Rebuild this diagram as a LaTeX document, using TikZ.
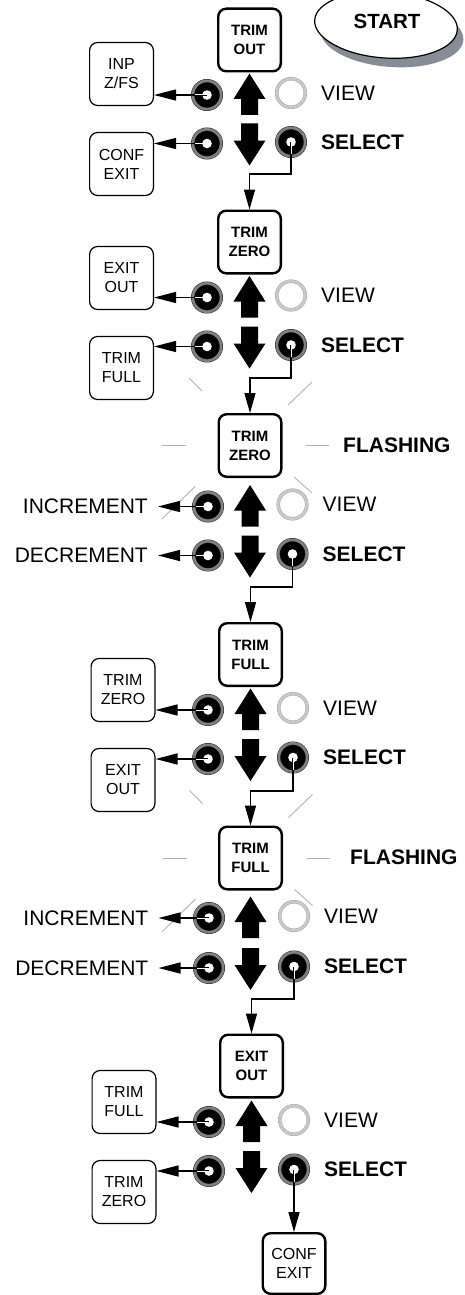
\documentclass[tikz,border=0pt]{standalone}
\usepackage{fontspec}
\setmainfont{Liberation Sans}
\usetikzlibrary{arrows.meta,shapes.geometric}
\definecolor{ringgray}{RGB}{128,128,130}
\definecolor{viewgray}{RGB}{200,200,206}
\definecolor{flashgray}{RGB}{178,178,178}
\definecolor{shadowgray}{RGB}{135,140,150}
\newcommand\ctrls[6]{%
 \node[btn] (#1bu) at (#2,#4) {};
 \node[btn] (#1bd) at (#2,#5) {};
 \node[viewbtn] (#1v) at (#3,#4-2) {};
 \node[btn] (#1s) at (#3,#5-1.5) {};
 \node[lbl, anchor=west] (#1vt) at (#3+30,#4-2) {VIEW};
 \node[lblb, anchor=west] (#1st) at (#3+30,#5-1.5) {SELECT};
 \fill (#6,#4-21.5) -- (#6+16,#4+4) -- (#6+8.5,#4+4) -- (#6+8.5,#4+20) -- (#6-8.5,#4+20) -- (#6-8.5,#4+4) -- (#6-16,#4+4) -- cycle;
 \fill (#6,#5+22) -- (#6+16,#5-3) -- (#6+8.5,#5-3) -- (#6+8.5,#5-20) -- (#6-8.5,#5-20) -- (#6-8.5,#5-3) -- (#6-16,#5-3) -- cycle;
}
\newcommand\whites[1]{%
 \draw[inner] (#1bu.center) -- ++(-12,0);
 \draw[inner] (#1bd.center) -- ++(-12,0);
 \draw[inner] (#1s.center) -- ++(0,12);
}
\newcommand\flashes[1]{%
 \begin{scope}[shift={(#1.center)}]
  \draw[flash] (-61,-67.5) -- (-48,-54.5);
  \draw[flash] (62,-63.5) -- (38,-40.5);
  \draw[flash] (-88,0) -- (-64,0);
  \draw[flash] (56,0) -- (79,0);
  \draw[flash] (-55,41) -- (-88,73.5);
  \draw[flash] (44,31.5) -- (62,47.5);
 \end{scope}
}
\begin{document}
\begin{tikzpicture}[x=1pt,y=-1pt,
  mainbox/.style={draw, line width=2.4pt, rounded corners=8pt, minimum width=62.6pt, minimum height=62.6pt, fill=white, inner sep=0pt, align=center, font=\bfseries\fontsize{15}{19}\selectfont},
  sidebox/.style={draw, line width=1.2pt, rounded corners=8pt, minimum width=63.8pt, minimum height=63pt, fill=white, inner sep=0pt, align=center, font=\fontsize{16}{19}\selectfont},
  btn/.style={circle, inner sep=0pt, minimum size=28.4pt, fill=black, draw=black!85, line width=0.5pt, double=ringgray, double distance=2.6pt, path picture={\fill[white] (path picture bounding box.center) circle (4.8pt);}},
  viewbtn/.style={circle, inner sep=0pt, minimum size=28.6pt, fill=white, draw=black!35, line width=0.45pt, double=viewgray, double distance=2.6pt},
  lbl/.style={inner sep=0pt, font=\fontsize{21}{25}\selectfont},
  lblb/.style={inner sep=0pt, font=\bfseries\fontsize{21}{25}\selectfont},
  conn/.style={line width=1.3pt, -{Triangle[length=22pt,width=11pt]}},
  connd/.style={line width=1.3pt, -{Triangle[length=20pt,width=11pt]}},
  inner/.style={draw=white, line width=1pt},
  flash/.style={draw=flashgray, line width=0.9pt},
  startell/.style={ellipse, inner sep=0pt, minimum width=143pt, minimum height=66pt, rotate=-4}
]
\useasboundingbox (0,0) rectangle (464,1295);
\fill[white] (0,0) rectangle (464,1295);

% START
\node[startell, fill=shadowgray, minimum height=64pt] (startsh) at (392,35) {};
\node[startell, draw, line width=1.2pt, fill=white] (startbg) at (386,25) {};
\node[lblb, font=\bfseries\fontsize{20.5}{24}\selectfont] (start) at (387,21) {START};

% main boxes
\node[mainbox] (m1) at (249.5,40) {TRIM\\OUT};
\node[mainbox] (m2) at (249.5,242) {TRIM\\ZERO};
\node[mainbox] (m3) at (250,445.5) {TRIM\\ZERO};
\node[mainbox] (m4) at (250.5,654.5) {TRIM\\FULL};
\node[mainbox] (m5) at (250.5,858) {TRIM\\FULL};
\node[mainbox] (m6) at (251.5,1066) {EXIT\\OUT};
\node[mainbox, font=\fontsize{16}{19}\selectfont, minimum height=60.6pt] (fin) at (294,1263.5) {CONF\\EXIT};

% flashing marks
\flashes{m3}
\flashes{m5}
\node[lblb, anchor=west] (f3) at (343,445.5) {FLASHING};
\node[lblb, anchor=west] (f5) at (350,857) {FLASHING};

% side boxes
\node[sidebox] (s1u) at (121.5,74) {INP\\Z/FS};
\node[sidebox] (s1d) at (121.5,164) {CONF\\EXIT};
\node[sidebox] (s2u) at (121.5,278) {EXIT\\OUT};
\node[sidebox] (s2d) at (121.5,368) {TRIM\\FULL};
\node[sidebox] (s4u) at (123,690) {TRIM\\ZERO};
\node[sidebox] (s4d) at (123,780) {EXIT\\OUT};
\node[sidebox] (s6u) at (124,1102) {TRIM\\FULL};
\node[sidebox] (s6d) at (124,1192) {TRIM\\ZERO};

% text targets
\node[lbl, anchor=east, inner xsep=10pt] (t3u) at (158,506.5) {INCREMENT};
\node[lbl, anchor=east, inner xsep=10pt] (t3d) at (158,555.5) {DECREMENT};
\node[lbl, anchor=east, inner xsep=10pt] (t5u) at (158.5,918) {INCREMENT};
\node[lbl, anchor=east, inner xsep=10pt] (t5d) at (158.5,968) {DECREMENT};

% controls
\ctrls{c1}{207}{291}{95}{143.5}{249.5}
\ctrls{c2}{207}{291}{297.5}{346.5}{249.5}
\ctrls{c3}{208}{292.5}{506.5}{555.5}{250}
\ctrls{c4}{208}{293}{710}{759}{250.5}
\ctrls{c5}{209}{294}{918}{968}{250.5}
\ctrls{c6}{209}{294}{1122}{1171}{251.5}

% side connectors
\draw[conn] (c1bu.center) -- (c1bu.center -| s1u.east);
\draw[conn] (c1bd.center) -- (c1bd.center -| s1d.east);
\draw[conn] (c2bu.center) -- (c2bu.center -| s2u.east);
\draw[conn] (c2bd.center) -- (c2bd.center -| s2d.east);
\draw[conn] (c3bu.center) -- (t3u.east);
\draw[conn] (c3bd.center) -- (t3d.east);
\draw[conn] (c4bu.center) -- (c4bu.center -| s4u.east);
\draw[conn] (c4bd.center) -- (c4bd.center -| s4d.east);
\draw[conn] (c5bu.center) -- (t5u.east);
\draw[conn] (c5bd.center) -- (t5d.east);
\draw[conn] (c6bu.center) -- (c6bu.center -| s6u.east);
\draw[conn] (c6bd.center) -- (c6bd.center -| s6d.east);

% select connectors
\coordinate (k1) at (249.5,174);
\coordinate (k2) at (250,378);
\coordinate (k3) at (250.5,587);
\coordinate (k4) at (250.5,791);
\coordinate (k5) at (251.5,999);
\draw[connd] (c1s.center) |- (k1) -- (m2.north);
\draw[connd] (c2s.center) |- (k2) -- (m3.north);
\draw[connd] (c3s.center) |- (k3) -- (m4.north);
\draw[connd] (c4s.center) |- (k4) -- (m5.north);
\draw[connd] (c5s.center) |- (k5) -- (m6.north);
\draw[connd] (c6s.center) -- (c6s.center |- fin.north);

\whites{c1}
\whites{c2}
\whites{c3}
\whites{c4}
\whites{c5}
\whites{c6}
\end{tikzpicture}
\end{document}
